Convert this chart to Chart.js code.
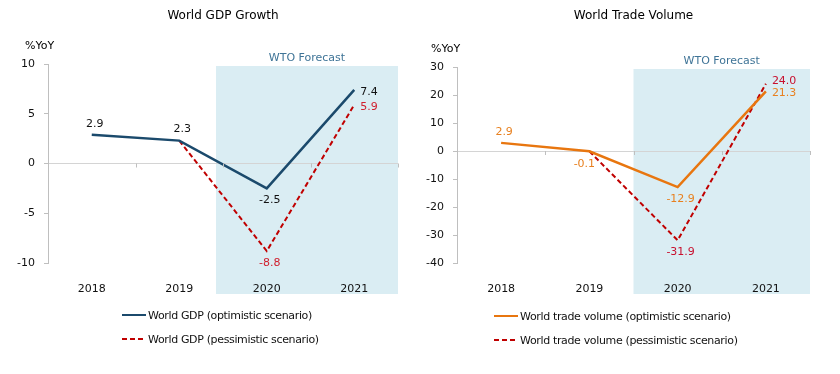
<!DOCTYPE html>
<html>
<head>
<meta charset="utf-8">
<script src="https://cdn.jsdelivr.net/npm/chart.js@4.4.1/dist/chart.umd.min.js"></script>
<style>
  body { margin: 0; background: #fff; font-family: "DejaVu Sans", sans-serif; }
  #wrap { position: relative; width: 840px; height: 374px; }
  canvas { position: absolute; top: 0; }
  .legend { position: absolute; font-size: 11px; color: #111; letter-spacing: -0.35px; }
  .legend div { height: 24px; display: flex; align-items: center; white-space: nowrap; }
  .legend svg { margin-right: 2px; }
</style>
</head>
<body>
<div id="wrap">
  <canvas id="gdpChart" width="410" height="374" style="left:0"></canvas>
  <canvas id="tradeChart" width="430" height="374" style="left:410px"></canvas>
  <div class="legend" id="gdpLegend" style="left:122px; top:303px"></div>
  <div class="legend" id="tradeLegend" style="left:494px; top:304px"></div>
</div>
<script>
// data
const years = ['2018', '2019', '2020', '2021'];
const gdpOptimistic = [2.9, 2.3, -2.5, 7.4];
const gdpPessimistic = [null, 2.3, -8.8, 5.9];
const tradeOptimistic = [2.9, -0.1, -12.9, 21.3];
const tradePessimistic = [null, -0.1, -31.9, 24.0];
const gdpTicks = [-10, -5, 0, 5, 10];
const tradeTicks = [-40, -30, -20, -10, 0, 10, 20, 30];

const FONT = '"DejaVu Sans", sans-serif';
const NAVY = '#1b4a6c';
const RED = '#c00000';
const ORANGE = '#e8760f';

// shading, titles, zero-line ticks
const decor = {
    id: 'decor',
    beforeDraw(chart, args, opts) {
        const ctx = chart.ctx, a = chart.chartArea, x = chart.scales.x;
        const x0 = x.getPixelForValue(opts.forecastFrom);
        ctx.save();
        ctx.fillStyle = '#daedf3';
        ctx.fillRect(x0, a.top + 2, a.right - x0, a.bottom - a.top + 29);
        ctx.font = '11px ' + FONT;
        ctx.textAlign = 'center';
        ctx.textBaseline = 'middle';
        ctx.fillStyle = '#3f7497';
        ctx.fillText('WTO Forecast', (x0 + a.right) / 2, a.top - 6);
        ctx.fillStyle = '#000';
        ctx.font = '12px ' + FONT;
        ctx.fillText(opts.title, (a.left + a.right) / 2, 16);
        ctx.font = '11px ' + FONT;
        ctx.textAlign = 'left';
        ctx.fillText('%YoY', opts.unitX, a.top - 18);
        ctx.restore();
    },
    afterDatasetsDraw(chart) {
        const ctx = chart.ctx, x = chart.scales.x, y = chart.scales.y;
        const y0 = y.getPixelForValue(0);
        ctx.save();
        ctx.strokeStyle = '#bfbfbf';
        ctx.lineWidth = 1;
        for (let i = 0; i < years.length; i++) {
            const px = Math.round(x.getPixelForValue(i + 0.5)) + 0.5;
            ctx.beginPath();
            ctx.moveTo(px, y0);
            ctx.lineTo(px, y0 + 4);
            ctx.stroke();
        }
        // data labels
        ctx.font = '11px ' + FONT;
        ctx.textBaseline = 'middle';
        chart.data.datasets.forEach((ds, di) => {
            const meta = chart.getDatasetMeta(di);
            ds.data.forEach((v, i) => {
                const pos = ds.labelPos[i];
                if (v === null || !pos) return;
                const p = meta.data[i];
                const txt = v.toFixed(1);
                ctx.fillStyle = ds.labelColor;
                if (pos === 'above') { ctx.textAlign = 'center'; ctx.fillText(txt, p.x + 3, p.y - 11); }
                else if (pos === 'below') { ctx.textAlign = 'center'; ctx.fillText(txt, p.x + 3, p.y + 12); }
                else if (pos === 'belowleft') { ctx.textAlign = 'center'; ctx.fillText(txt, p.x - 5, p.y + 13); }
                else if (pos === 'right') { ctx.textAlign = 'left'; ctx.fillText(txt, p.x + 6, p.y + 2); }
                else if (pos === 'rightup') { ctx.textAlign = 'left'; ctx.fillText(txt, p.x + 6, p.y - 3); }
            });
        });
        ctx.restore();
    }
};

function makeChart(id, datasets, ticks, opts) {
    return new Chart(document.getElementById(id), {
        type: 'line',
        data: { labels: years, datasets: datasets },
        plugins: [decor],
        options: {
            responsive: false,
            animation: false,
            events: [],
            layout: { padding: { left: 0, right: opts.padRight, top: opts.padTop, bottom: 81 } },
            plugins: {
                legend: { display: false },
                tooltip: { enabled: false },
                decor: opts
            },
            elements: { point: { radius: 0 }, line: { tension: 0 } },
            scales: {
                x: {
                    offset: true,
                    grid: { display: false },
                    border: { display: false },
                    ticks: { color: '#111', font: { family: FONT, size: 11 }, padding: 12 },
                    afterFit: s => { s.height = 30; }
                },
                y: {
                    min: ticks[0],
                    max: ticks[ticks.length - 1],
                    ticks: { stepSize: ticks[1] - ticks[0], color: '#111', font: { family: FONT, size: 11 }, padding: 9 },
                    grid: {
                        color: c => (c.tick && c.tick.value === 0) ? '#d4d4d4' : 'rgba(0,0,0,0)',
                        tickColor: '#bfbfbf',
                        tickLength: 4
                    },
                    border: { color: '#bfbfbf' },
                    afterFit: s => { s.width = opts.axisWidth; }
                }
            }
        }
    });
}

const gdpSets = [
    { label: 'World GDP (optimistic scenario)', data: gdpOptimistic, borderColor: NAVY, borderWidth: 2.5,
      labelColor: '#111', labelPos: ['above', 'above', 'below', 'right'] },
    { label: 'World GDP (pessimistic scenario)', data: gdpPessimistic, borderColor: RED, borderWidth: 2, borderDash: [5, 3],
      labelColor: '#d0202e', labelPos: [null, null, 'below', 'right'] }
];
const tradeSets = [
    { label: 'World trade volume (optimistic scenario)', data: tradeOptimistic, borderColor: ORANGE, borderWidth: 2.5,
      labelColor: '#e8801f', labelPos: ['above', 'belowleft', 'below', 'right'] },
    { label: 'World trade volume (pessimistic scenario)', data: tradePessimistic, borderColor: RED, borderWidth: 2, borderDash: [5, 3],
      labelColor: '#c8102e', labelPos: [null, null, 'below', 'rightup'] }
];

makeChart('gdpChart', gdpSets, gdpTicks, { title: 'World GDP Growth', forecastFrom: 1.42, unitX: 25, padRight: 12, padTop: 64, axisWidth: 48 });
makeChart('tradeChart', tradeSets, tradeTicks, { title: 'World Trade Volume', forecastFrom: 1.5, unitX: 21, padRight: 30, padTop: 67, axisWidth: 47 });

// legends
function buildLegend(id, sets) {
    const el = document.getElementById(id);
    sets.forEach(ds => {
        const row = document.createElement('div');
        const dash = ds.borderDash ? 'stroke-dasharray="5,3"' : '';
        row.innerHTML = '<svg width="24" height="4"><line x1="0" y1="2" x2="24" y2="2" stroke="' + ds.borderColor +
            '" stroke-width="2" ' + dash + '/></svg><span>' + ds.label + '</span>';
        el.appendChild(row);
    });
}
buildLegend('gdpLegend', gdpSets);
buildLegend('tradeLegend', tradeSets);
</script>
</body>
</html>
